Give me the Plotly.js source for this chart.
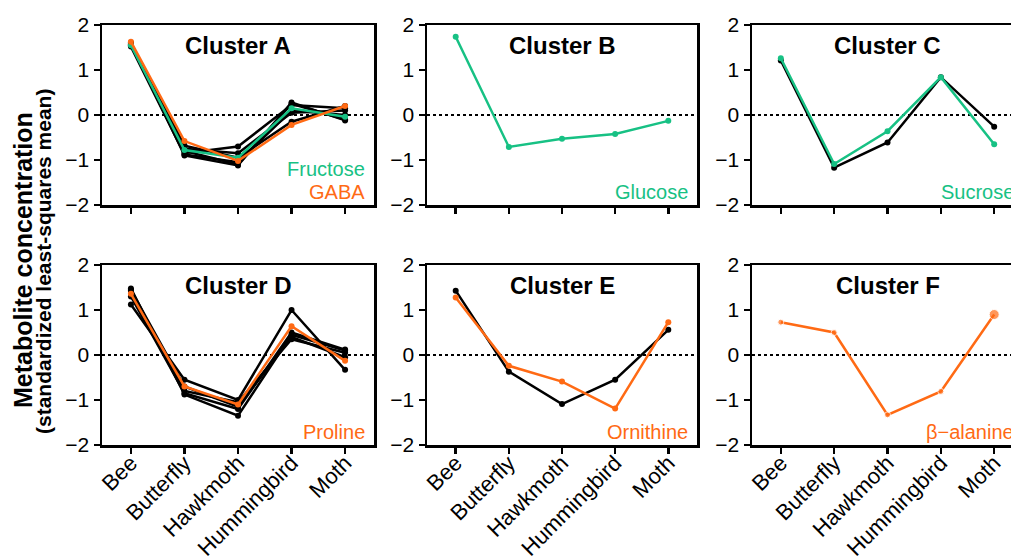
<!DOCTYPE html>
<html>
<head>
<meta charset="utf-8">
<script src="https://cdn.plot.ly/plotly-3.0.1.min.js"></script>
<style>
html,body{margin:0;padding:0;overflow:hidden;background:#fff;}
#chart{width:1030px;height:558px;}
</style>
</head>
<body>
<div id="chart"></div>
<script>
const categories = ["Bee", "Butterfly", "Hawkmoth", "Hummingbird", "Moth"];
const yTickVals = [-2, -1, 0, 1, 2];
const yTickText = ["\u22122", "\u22121", "0", "1", "2"];
const yTitleLine1 = "Metabolite concentration";
const yTitleLine2 = "(standardized least-squares mean)";

// Cluster A
const clusterA_black = [
  [1.60, -0.90, -1.12, 0.28, -0.12],
  [1.55, -0.85, -0.70, 0.22, 0.15],
  [1.58, -0.75, -0.85, 0.05, 0.10],
  [1.52, -0.88, -1.05, 0.10, 0.00],
  [1.60, -0.68, -0.95, -0.15, 0.20],
  [1.57, -0.80, -1.10, 0.25, -0.10]
];
const fructose = [1.55, -0.78, -0.95, 0.15, -0.04];
const gaba = [1.63, -0.58, -1.02, -0.22, 0.20];

// Cluster B
const glucose = [1.74, -0.71, -0.53, -0.42, -0.13];

// Cluster C
const clusterC_black = [[1.21, -1.17, -0.61, 0.84, -0.26]];
const sucrose = [1.26, -1.09, -0.36, 0.84, -0.65];

// Cluster D
const clusterD_black = [
  [1.12, -0.55, -1.00, 1.00, -0.33],
  [1.48, -0.88, -1.35, 0.45, 0.10],
  [1.43, -0.80, -1.05, 0.35, 0.05],
  [1.30, -0.85, -1.20, 0.50, 0.12],
  [1.45, -0.70, -1.15, 0.40, -0.05]
];
const proline = [1.36, -0.70, -1.10, 0.64, -0.13];

// Cluster E
const clusterE_black = [[1.43, -0.37, -1.09, -0.55, 0.56]];
const ornithine = [1.28, -0.24, -0.59, -1.19, 0.73];

// Cluster F
const betaAlanine = [0.73, 0.50, -1.33, -0.81, 0.90];

const GREEN = "#17c184";
const ORANGE = "#ff6a14";
const W = 1030, H = 558;
const FONT = "Liberation Sans, Arial, sans-serif";

const panels = [
  {name: "Cluster A", black: clusterA_black, colored: [[fructose, GREEN, "Fructose"], [gaba, ORANGE, "GABA"]], px: [102, 374], py: [25, 205]},
  {name: "Cluster B", black: [], colored: [[glucose, GREEN, "Glucose"]], px: [427, 697], py: [25, 205]},
  {name: "Cluster C", black: clusterC_black, colored: [[sucrose, GREEN, "Sucrose"]], px: [752, 1023], py: [25, 205]},
  {name: "Cluster D", black: clusterD_black, colored: [[proline, ORANGE, "Proline"]], px: [102, 374], py: [265, 445]},
  {name: "Cluster E", black: clusterE_black, colored: [[ornithine, ORANGE, "Ornithine"]], px: [427, 697], py: [265, 445]},
  {name: "Cluster F", black: [], colored: [[betaAlanine, ORANGE, "\u03b2\u2212alanine"]], px: [752, 1023], py: [265, 445]}
];

const traces = [];
const layout = {
  width: W, height: H,
  margin: {l: 0, r: 0, t: 0, b: 0},
  paper_bgcolor: "#fff", plot_bgcolor: "#fff",
  showlegend: false,
  font: {family: FONT, color: "#000"},
  annotations: [], shapes: []
};

panels.forEach((p, i) => {
  const n = i + 1;
  const xa = n === 1 ? "x" : "x" + n;
  const ya = n === 1 ? "y" : "y" + n;
  const bottom = i >= 3;
  p.black.forEach(vals => {
    traces.push({x: categories, y: vals, xaxis: xa, yaxis: ya, type: "scatter", mode: "lines+markers",
      line: {color: "#000", width: 2.5}, marker: {color: "#000", size: 6}, hoverinfo: "skip"});
  });
  p.colored.forEach((c, k) => {
    const sizes = (p.name === "Cluster F") ? categories.map((_, j) => j === categories.length - 1 ? 10 : 6) : 6;
    traces.push({x: categories, y: c[0], xaxis: xa, yaxis: ya, type: "scatter", mode: "lines+markers",
      line: {color: c[1], width: 2.5}, marker: {color: c[1], size: sizes}, hoverinfo: "skip"});
    const nCol = p.colored.length;
    const yc = p.py[1] - 13 - (nCol - 1 - k) * 23;
    layout.annotations.push({text: c[2], xref: xa + " domain", yref: "paper", x: 1 - 7 / (p.px[1] - p.px[0]),
      y: 1 - yc / H, xanchor: "right", yanchor: "middle", showarrow: false,
      font: {size: 20, color: c[1], family: FONT}});
  });
  const key = n === 1 ? "" : n;
  layout["xaxis" + key] = {
    domain: [p.px[0] / W, p.px[1] / W], anchor: ya,
    type: "category", categoryorder: "array", categoryarray: categories,
    range: [-0.54, 4.54], showgrid: false, zeroline: false,
    showline: true, linecolor: "#000", linewidth: 2.5, mirror: true,
    ticks: "outside", ticklen: 6, tickwidth: 2.5, tickcolor: "#000",
    showticklabels: bottom, tickangle: -45, ticklabelstandoff: -12,
    tickfont: {size: 22, color: "#000", family: FONT}
  };
  layout["yaxis" + key] = {
    domain: [1 - p.py[1] / H, 1 - p.py[0] / H], anchor: xa,
    range: [-2, 2], showgrid: false, zeroline: false,
    showline: true, linecolor: "#000", linewidth: 2.5, mirror: true,
    ticks: "outside", ticklen: 6, tickwidth: 2.5, tickcolor: "#000",
    tickvals: yTickVals, ticktext: yTickText,
    tickfont: {size: 21, color: "#000", family: FONT}
  };
  layout.shapes.push({type: "line", xref: xa + " domain", yref: ya, x0: 0, x1: 1, y0: 0, y1: 0,
    line: {color: "#000", width: 1.8, dash: "dot"}, layer: "below"});
  layout.annotations.push({text: "<b>" + p.name + "</b>", xref: xa + " domain", yref: "paper",
    x: 0.5, y: 1 - (p.py[0] + 20) / H, xanchor: "center", yanchor: "middle", showarrow: false,
    font: {size: 24, color: "#000", family: FONT}});
});

layout.annotations.push({text: "<b>" + yTitleLine1 + "</b>",
  xref: "paper", yref: "paper", x: 23 / W, y: 1 - 260 / H, textangle: -90, showarrow: false,
  xanchor: "center", yanchor: "middle",
  font: {size: 25, color: "#000", family: FONT}});
layout.annotations.push({text: "<b>" + yTitleLine2 + "</b>",
  xref: "paper", yref: "paper", x: 43 / W, y: 1 - 262 / H, textangle: -90, showarrow: false,
  xanchor: "center", yanchor: "middle",
  font: {size: 21, color: "#000", family: FONT}});

Plotly.newPlot("chart", traces, layout, {displayModeBar: false, staticPlot: true});
</script>
</body>
</html>
